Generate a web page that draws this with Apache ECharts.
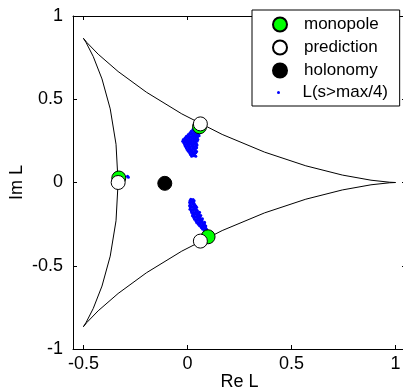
<!DOCTYPE html>
<html>
<head>
<meta charset="utf-8">
<script src="https://cdn.jsdelivr.net/npm/echarts@6/dist/echarts.min.js"></script>
<style>
  html, body { margin: 0; padding: 0; background: #ffffff; }
  #chart { width: 403px; height: 390px; }
</style>
</head>
<body>
<div id="chart"></div>
<script>
// Boundary of the Polyakov-loop domain (deltoid), Re and Im parts
const boundaryRe = [1, 0.9698, 0.8818, 0.7440, 0.5686, 0.3706, 0.1667, -0.0273, -0.1975, -0.3333,
  -0.4290, -0.4834, -0.5, -0.4864, -0.4528, -0.4107, -0.3711, -0.3433, -0.3333,
  -0.3433, -0.3711, -0.4107, -0.4528, -0.4864, -0.5, -0.4834, -0.4290, -0.3333,
  -0.1975, -0.0273, 0.1667, 0.3706, 0.5686, 0.7440, 0.8818, 0.9698, 1];
const boundaryIm = [0, 0.0018, 0.0138, 0.0447, 0.1003, 0.1824, 0.2887, 0.4122, 0.5425, 0.6667,
  0.7706, 0.8407, 0.8660, 0.8390, 0.7568, 0.6220, 0.4423, 0.2298, 0,
  -0.2298, -0.4423, -0.6220, -0.7568, -0.8390, -0.8660, -0.8407, -0.7706, -0.6667,
  -0.5425, -0.4122, -0.2887, -0.1824, -0.1003, -0.0447, -0.0138, -0.0018, 0];

// Monopole positions, predicted positions and the holonomy
const monopoleRe = [0.058, -0.330, 0.099];
const monopoleIm = [0.335, 0.027, -0.326];
const predictionRe = [0.062, -0.333, 0.062];
const predictionIm = [0.352, 0.000, -0.352];
const holonomyRe = [-0.109];
const holonomyIm = [-0.005];

// Local Polyakov loop [Re, Im] where the action density exceeds a quarter of its maximum
const loopUpper = [
  [0.026, 0.318], [0.037, 0.320], [0.046, 0.317],
  [0.018, 0.308], [0.029, 0.310], [0.038, 0.306], [0.049, 0.309], [0.056, 0.305],
  [0.012, 0.298], [0.021, 0.296], [0.033, 0.299], [0.042, 0.297], [0.052, 0.300],
  [0.004, 0.288], [0.015, 0.290], [0.024, 0.287], [0.035, 0.289], [0.044, 0.286], [0.054, 0.289],
  [-0.005, 0.278], [0.006, 0.280], [0.016, 0.277], [0.027, 0.279], [0.036, 0.276], [0.047, 0.278], [0.056, 0.281],
  [-0.012, 0.268], [-0.001, 0.270], [0.008, 0.267], [0.019, 0.269], [0.028, 0.266], [0.039, 0.268], [0.048, 0.271],
  [-0.020, 0.258], [-0.009, 0.260], [0.000, 0.257], [0.011, 0.259], [0.020, 0.256], [0.031, 0.258], [0.040, 0.255], [0.050, 0.259],
  [-0.023, 0.248], [-0.012, 0.250], [-0.002, 0.247], [0.009, 0.249], [0.018, 0.246], [0.029, 0.248], [0.038, 0.245], [0.047, 0.249],
  [-0.018, 0.238], [-0.007, 0.240], [0.002, 0.237], [0.013, 0.239], [0.022, 0.236], [0.033, 0.238], [0.042, 0.235],
  [-0.014, 0.228], [-0.003, 0.230], [0.006, 0.227], [0.017, 0.229], [0.026, 0.226], [0.037, 0.228], [0.046, 0.225],
  [-0.010, 0.218], [0.001, 0.220], [0.010, 0.217], [0.021, 0.219], [0.030, 0.216], [0.041, 0.218],
  [-0.006, 0.208], [0.005, 0.210], [0.014, 0.207], [0.025, 0.209], [0.034, 0.206], [0.044, 0.209],
  [-0.002, 0.198], [0.009, 0.200], [0.018, 0.197], [0.029, 0.199], [0.038, 0.196],
  [0.004, 0.188], [0.015, 0.190], [0.024, 0.187], [0.035, 0.189], [0.044, 0.186],
  [0.010, 0.178], [0.021, 0.180], [0.030, 0.177], [0.040, 0.179],
  [0.014, 0.168], [0.025, 0.170], [0.034, 0.167],
  [0.020, 0.158], [0.031, 0.160], [0.040, 0.157]
];
const loopLower = [
  [0.016, -0.100], [0.027, -0.102],
  [0.012, -0.110], [0.022, -0.112], [0.032, -0.109],
  [0.010, -0.120], [0.020, -0.118], [0.030, -0.121],
  [0.014, -0.130], [0.025, -0.128], [0.034, -0.131],
  [0.010, -0.140], [0.020, -0.142], [0.031, -0.139], [0.040, -0.141],
  [0.014, -0.150], [0.024, -0.148], [0.035, -0.151], [0.044, -0.149],
  [0.012, -0.160], [0.022, -0.162], [0.033, -0.159], [0.042, -0.161],
  [0.018, -0.170], [0.028, -0.168], [0.039, -0.171], [0.048, -0.169],
  [0.020, -0.180], [0.030, -0.182], [0.041, -0.179], [0.050, -0.181], [0.058, -0.178],
  [0.026, -0.190], [0.036, -0.188], [0.047, -0.191], [0.056, -0.189],
  [0.024, -0.200], [0.034, -0.202], [0.045, -0.199], [0.054, -0.201], [0.064, -0.198],
  [0.030, -0.210], [0.040, -0.208], [0.051, -0.211], [0.060, -0.209],
  [0.034, -0.220], [0.044, -0.222], [0.055, -0.219], [0.064, -0.221], [0.072, -0.218],
  [0.040, -0.230], [0.050, -0.228], [0.061, -0.231], [0.070, -0.229],
  [0.044, -0.240], [0.054, -0.242], [0.065, -0.239], [0.074, -0.241], [0.082, -0.238],
  [0.052, -0.250], [0.062, -0.248], [0.073, -0.251], [0.082, -0.249],
  [0.058, -0.260], [0.068, -0.262], [0.079, -0.259], [0.088, -0.261],
  [0.066, -0.270], [0.076, -0.268], [0.087, -0.271],
  [0.072, -0.280], [0.082, -0.278], [0.092, -0.281],
  [0.080, -0.288], [0.090, -0.290]
];
const loopLeft = [[-0.288, 0.038], [-0.284, 0.032]];

const xTicks = [-0.5, 0, 0.5, 1];
const seriesNames = ['monopole', 'prediction', 'holonomy', 'L(s>max/4)'];

const pairs = (re, im) => re.map((x, i) => [x, im[i]]);

const FONT = 'Liberation Sans, Arial, Helvetica, sans-serif';
const black = '#000000';

const chart = echarts.init(document.getElementById('chart'), null, { renderer: 'canvas' });

const xBase = {
  type: 'value', min: -0.55, max: 1.05, splitLine: { show: false },
  axisLine: { show: true, onZero: false, lineStyle: { color: black, width: 1 } },
  axisTick: { show: true, inside: true, length: 4, customValues: xTicks, lineStyle: { color: black } }
};
const yBase = {
  type: 'value', min: -1, max: 1, interval: 0.5, splitLine: { show: false },
  axisLine: { show: true, onZero: false, lineStyle: { color: black, width: 1 } },
  axisTick: { show: true, inside: true, length: 4, lineStyle: { color: black } }
};

chart.setOption({
  animation: false,
  backgroundColor: '#ffffff',
  textStyle: { fontFamily: FONT, color: black },
  grid: { left: 73, top: 16, width: 333, height: 333, outerBoundsMode: 'none', containLabel: false },
  xAxis: [
    Object.assign({}, xBase, {
      position: 'bottom',
      name: 'Re L', nameLocation: 'middle', nameGap: 24, nameMoveOverlap: false,
      nameTextStyle: { fontSize: 18, color: black, fontFamily: FONT },
      axisLabel: { show: true, customValues: xTicks, margin: 6, fontSize: 18, color: black, fontFamily: FONT }
    }),
    Object.assign({}, xBase, { position: 'top', axisLabel: { show: false } })
  ],
  yAxis: [
    Object.assign({}, yBase, {
      position: 'left',
      name: 'Im L', nameLocation: 'middle', nameGap: 47, nameRotate: 90, nameMoveOverlap: false,
      nameTextStyle: { fontSize: 18, color: black, fontFamily: FONT },
      axisLabel: { show: true, margin: 10, fontSize: 18, color: black, fontFamily: FONT }
    }),
    Object.assign({}, yBase, { position: 'right', axisLabel: { show: false } })
  ],
  legend: [
    {
      data: seriesNames.slice(0, 3),
      orient: 'vertical', left: 252, top: 10,
      padding: [3, 21, 24, 20],
      itemWidth: 38, itemHeight: 14, itemGap: 0,
      backgroundColor: '#ffffff', borderColor: black, borderWidth: 1,
      textStyle: { fontSize: 17, lineHeight: 23, color: black, fontFamily: FONT },
      selectedMode: false
    },
    {
      data: seriesNames.slice(3),
      orient: 'vertical', left: 277, top: 81,
      padding: 0,
      itemWidth: 38, itemHeight: 3, itemGap: 0,
      textStyle: { fontSize: 17, lineHeight: 23, color: black, fontFamily: FONT },
      selectedMode: false
    }
  ],
  series: [
    {
      type: 'line', name: 'boundary', data: pairs(boundaryRe, boundaryIm),
      showSymbol: false, symbol: 'none', smooth: false, silent: true,
      lineStyle: { color: black, width: 1 }, z: 1
    },
    {
      type: 'scatter', name: seriesNames[3], data: loopUpper.concat(loopLower, loopLeft),
      symbol: 'circle', symbolSize: 3, itemStyle: { color: '#0000ff', opacity: 1 }, z: 2
    },
    {
      type: 'scatter', name: seriesNames[0], data: pairs(monopoleRe, monopoleIm),
      symbol: 'circle', symbolSize: 14,
      itemStyle: { color: '#00ff00', borderColor: black, borderWidth: 1, opacity: 1 }, z: 3
    },
    {
      type: 'scatter', name: seriesNames[1], data: pairs(predictionRe, predictionIm),
      symbol: 'circle', symbolSize: 14,
      itemStyle: { color: '#ffffff', borderColor: black, borderWidth: 1, opacity: 1 }, z: 4
    },
    {
      type: 'scatter', name: seriesNames[2], data: pairs(holonomyRe, holonomyIm),
      symbol: 'circle', symbolSize: 14,
      itemStyle: { color: black, borderColor: black, borderWidth: 1, opacity: 1 }, z: 5
    }
  ]
});
</script>
</body>
</html>
